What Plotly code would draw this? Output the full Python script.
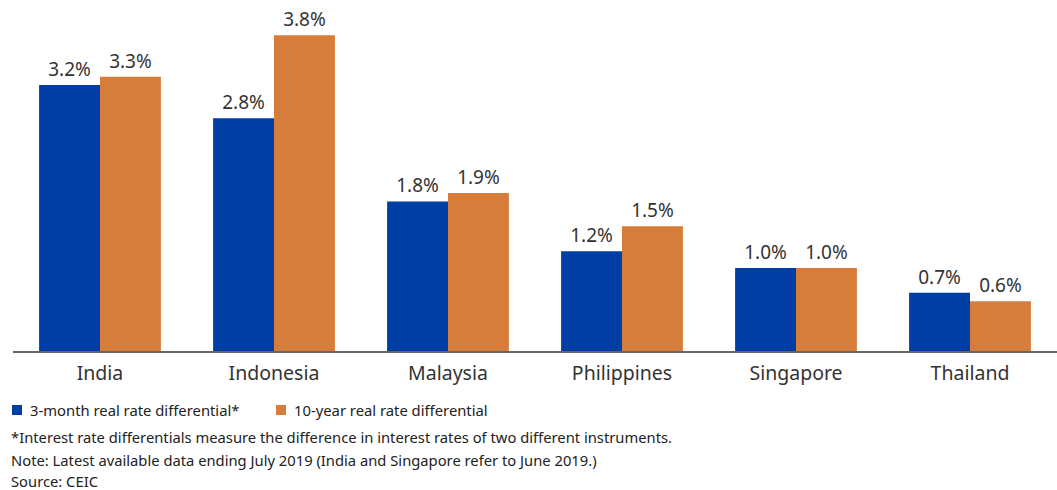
import plotly.graph_objects as go

countries = ["India", "Indonesia", "Malaysia", "Philippines", "Singapore", "Thailand"]
three_month = [3.2, 2.8, 1.8, 1.2, 1.0, 0.7]
ten_year = [3.3, 3.8, 1.9, 1.5, 1.0, 0.6]
series_names = ["3-month real rate differential*", "10-year real rate differential"]
footnotes = [
    "*Interest rate differentials measure the difference in interest rates of two different instruments.",
    "Note: Latest available data ending July 2019 (India and Singapore refer to June 2019.)",
    "Source: CEIC",
]

FONT = "Noto Sans"
BLUE = "#003DA5"
ORANGE = "#D67D3C"
TXT = "#333333"

W, H = 1057, 490
ML, MR, MT, MB = 13, 0, 10, 139
plot_w = W - ML - MR
plot_h = H - MT - MB

fig = go.Figure()
for name, vals, col in [(series_names[0], three_month, BLUE), (series_names[1], ten_year, ORANGE)]:
    fig.add_trace(go.Bar(
        x=countries, y=vals, name=name, marker=dict(color=col, line=dict(width=0)),
        text=[f"{v:.1f}%" for v in vals], textposition="outside",
        textfont=dict(family=FONT, size=19, color=TXT), cliponaxis=False,
    ))

def py(pix):
    return (H - MB - pix) / plot_h

def px(pix):
    return (pix - ML) / plot_w

# manual legend
for (x0, x1, tx), name, col in zip([(12, 22, 28), (276, 286, 292)], series_names, [BLUE, ORANGE]):
    fig.add_shape(type="rect", xref="paper", yref="paper", x0=px(x0), x1=px(x1),
                  y0=py(415), y1=py(405), fillcolor=col, line=dict(width=0))
    fig.add_annotation(text=name, xref="paper", yref="paper", x=px(tx), y=py(410),
                       xanchor="left", yanchor="middle", showarrow=False,
                       font=dict(family=FONT, size=14.8, color="#222222"))

ys = [437, 460, 481]
for t, yy in zip(footnotes, ys):
    fig.add_annotation(text=t, xref="paper", yref="paper", x=px(9),
                       y=py(yy), xanchor="left", yanchor="middle", showarrow=False,
                       font=dict(family=FONT, size=14.75, color="#222222"))

fig.update_layout(
    width=W, height=H, margin=dict(l=ML, r=MR, t=MT, b=MB),
    paper_bgcolor="white", plot_bgcolor="white",
    barmode="group", bargap=0.3, bargroupgap=0,
    xaxis=dict(showline=True, linecolor="#666666", linewidth=2, ticks="", range=[-0.5, 5.5],
               tickfont=dict(family=FONT, size=19.5, color=TXT), showgrid=False, automargin=False,
               ticklabelstandoff=4),
    yaxis=dict(visible=False, range=[0, plot_h / 83.1], showgrid=False, zeroline=False),
    showlegend=False,
)

fig.write_html("out.html", config={"displayModeBar": False},
               post_script="document.body.style.margin='0';document.body.style.overflow='hidden';")
